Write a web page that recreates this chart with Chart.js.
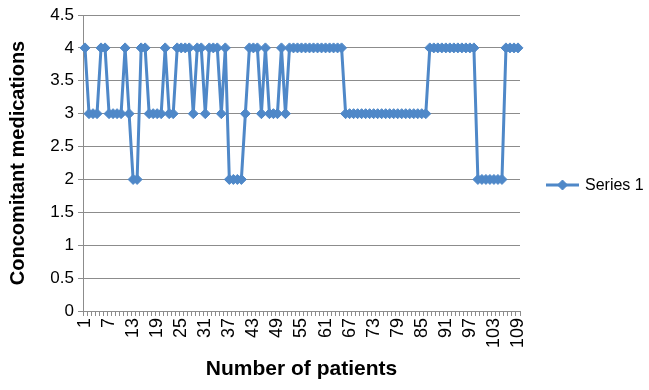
<!DOCTYPE html>
<html><head><meta charset="utf-8">
<script src="https://cdn.jsdelivr.net/npm/chart.js@4.4.0/dist/chart.umd.min.js"></script>
<style>html,body{margin:0;padding:0;background:#fff;}#wrap{width:649px;height:390px;}</style>
</head><body>
<div id="wrap"><canvas id="c" width="649" height="390"></canvas></div>
<script>
const patients = ['1','2','3','4','5','6','7','8','9','10','11','12','13','14','15','16','17','18','19','20',
'21','22','23','24','25','26','27','28','29','30','31','32','33','34','35','36','37','38','39','40',
'41','42','43','44','45','46','47','48','49','50','51','52','53','54','55','56','57','58','59','60',
'61','62','63','64','65','66','67','68','69','70','71','72','73','74','75','76','77','78','79','80',
'81','82','83','84','85','86','87','88','89','90','91','92','93','94','95','96','97','98','99','100',
'101','102','103','104','105','106','107','108','109'];
const medications = [
 4,3,3,3,4,4,3,3,3,3,
 4,3,2,2,4,4,3,3,3,3,
 4,3,3,4,4,4,4,3,4,4,
 3,4,4,4,3,4,2,2,2,2,
 3,4,4,4,3,4,3,3,3,4,
 3,4,4,4,4,4,4,4,4,4,
 4,4,4,4,4,3,3,3,3,3,
 3,3,3,3,3,3,3,3,3,3,
 3,3,3,3,3,3,4,4,4,4,
 4,4,4,4,4,4,4,4,2,2,
 2,2,2,2,2,4,4,4,4];
const seriesName = 'Series 1';
const yMin = 0, yMax = 4.5, yStep = 0.5;
const xLabelEvery = 6;
const xTitle = 'Number of patients';
const yTitle = 'Concomitant medications';

const lineColor = '#4F88C8';
const gridColor = '#8C8C8C';
const fontFamily = '"Liberation Sans", Arial, sans-serif';

const legendPlugin = {
  id: 'sideLegend',
  afterDraw(chart) {
    const ds = chart.data.datasets[0];
    const ctx = chart.ctx;
    const cy = 185, x0 = 546, x1 = 579;
    ctx.save();
    ctx.strokeStyle = ds.borderColor;
    ctx.lineWidth = ds.borderWidth;
    ctx.beginPath(); ctx.moveTo(x0, cy); ctx.lineTo(x1, cy); ctx.stroke();
    ctx.fillStyle = ds.pointBackgroundColor;
    ctx.strokeStyle = ds.pointBorderColor;
    ctx.lineWidth = ds.pointBorderWidth;
    Chart.helpers.drawPoint(ctx, {pointStyle: ds.pointStyle, radius: ds.pointRadius, borderWidth: ds.pointBorderWidth}, (x0 + x1) / 2, cy);
    ctx.fillStyle = '#000';
    ctx.font = '16px ' + fontFamily;
    ctx.textBaseline = 'middle';
    ctx.textAlign = 'left';
    ctx.fillText(ds.label, 585, cy + 1);
    ctx.restore();
  }
};

new Chart(document.getElementById('c'), {
  type: 'line',
  data: {
    labels: patients,
    datasets: [{
      label: seriesName,
      data: medications,
      borderColor: lineColor,
      borderWidth: 3,
      pointStyle: 'rectRot',
      pointRadius: 5,
      pointBackgroundColor: lineColor,
      pointBorderColor: lineColor,
      pointBorderWidth: 1,
      tension: 0,
      fill: false
    }]
  },
  options: {
    responsive: false,
    animation: false,
    devicePixelRatio: 1,
    layout: { padding: { left: 2, top: 15, right: 129, bottom: 4 } },
    plugins: { legend: { display: false }, tooltip: { enabled: false } },
    scales: {
      x: {
        type: 'category',
        offset: true,
        grid: { display: true, drawOnChartArea: false, drawTicks: true, tickLength: 5, offset: true, color: gridColor },
        border: { display: true, color: gridColor, width: 1 },
        ticks: {
          autoSkip: false, minRotation: 90, maxRotation: 90, padding: 2,
          color: '#000', font: { family: fontFamily, size: 18 },
          callback: function(v, i) { return i % xLabelEvery === 0 ? patients[i] : ''; }
        },
        title: { display: true, text: xTitle, color: '#000', font: { family: fontFamily, size: 21, weight: 'bold' }, padding: { top: 2, bottom: 4 } },
        afterFit: function(s) { s.height = 390 - 311 - 4; }
      },
      y: {
        min: yMin, max: yMax,
        grid: { color: gridColor, drawTicks: true, tickLength: 5 },
        border: { display: true, color: gridColor, width: 1 },
        ticks: { stepSize: yStep, color: '#000', padding: 4, font: { family: fontFamily, size: 17 },
          callback: function(v) { return String(v); } },
        title: { display: true, text: yTitle, color: '#000', font: { family: fontFamily, size: 20, weight: 'bold' }, padding: { top: 4, bottom: 4 } },
        afterFit: function(s) { s.width = 83 - 2; }
      }
    }
  },
  plugins: [legendPlugin]
});
</script>
</body></html>
